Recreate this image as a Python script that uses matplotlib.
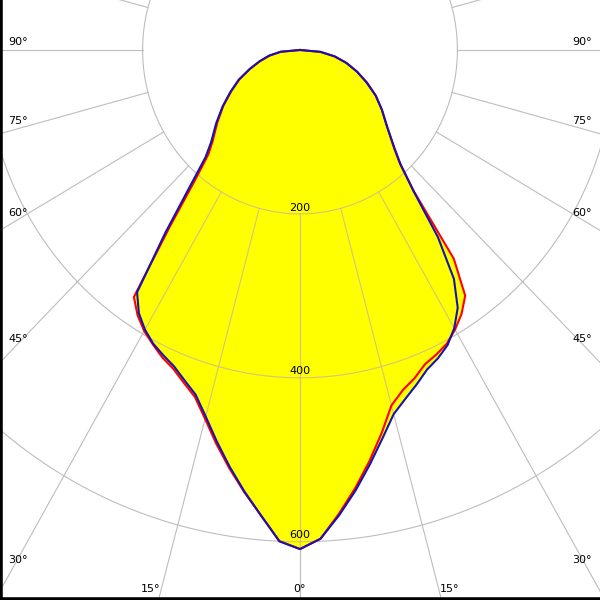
import numpy as np
import matplotlib
matplotlib.use('Agg')
import matplotlib.pyplot as plt

# polar light distribution, 0 deg pointing down, intensity in cd
angles = [0, 2.5, 5, 7.5, 10, 12.5, 15, 17.5, 20, 22.5, 25, 27.5, 30, 32.5, 35,
          37.5, 40, 42.5, 45, 50, 55, 60, 65, 70, 75, 80, 85, 90]

# C0-C180 plane (red)
red_right = [609, 597, 568, 539, 509, 479, 449, 435, 426, 415, 410, 404, 394, 382, 366,
             321, 225, 188, 169, 144, 127, 111, 94, 77, 61, 44, 26, 0]
red_left = [609, 600, 570, 544, 518, 492, 466, 444, 432, 421, 414, 405, 396, 384, 368,
            272, 208, 172, 157, 137, 119, 101, 85, 68, 53, 39, 24, 0]

# C90-C270 plane (blue)
blue_right = [609, 597, 570, 542, 513, 485, 460, 446, 434, 422, 415, 406, 392, 373, 341,
              288, 224, 189, 170, 144, 127, 111, 93, 77, 61, 45, 26, 0]
blue_left = [609, 600, 570, 543, 516, 489, 463, 441, 429, 418, 411, 404, 394, 381, 361,
             281, 218, 178, 160, 139, 120, 102, 86, 68, 53, 40, 25, 0]

rings = [200, 400, 600]
spoke_step = 15
angle_labels = [90, 75, 60, 45, 30]
bottom_labels = [15, 0]

SX, SY = 0.787, 0.8195   # pixels per cd, horizontal / vertical


def outline(left, right):
    a = np.radians(angles)
    l = np.asarray(left, float)
    r = np.asarray(right, float)
    x = np.concatenate([-l[::-1] * np.sin(a[::-1]), r * np.sin(a)])
    y = np.concatenate([-l[::-1] * np.cos(a[::-1]), -r * np.cos(a)])
    return x, y


def draw_grid(color, zorder, clip=None):
    t = np.linspace(0, 2 * np.pi, 400)
    lines = []
    for r in rings:
        lines += ax.plot(r * np.sin(t), -r * np.cos(t), color=color, lw=0.8, zorder=zorder)
    for deg in range(0, 181, spoke_step):
        a = np.radians(deg)
        for s in (-1, 1):
            lines += ax.plot([s * rings[0] * np.sin(a), s * 1200 * np.sin(a)],
                             [-rings[0] * np.cos(a), -1200 * np.cos(a)],
                             color=color, lw=0.8, zorder=zorder)
    if clip is not None:
        for ln in lines:
            ln.set_clip_path(clip)


fig = plt.figure(figsize=(6, 6), dpi=100)
ax = fig.add_axes([0, 0, 1, 1])
ax.set_xlim(-300 / SX, 300 / SX)
ax.set_ylim(-550 / SY, 50 / SY)

rx, ry = outline(red_left, red_right)
bx, by = outline(blue_left, blue_right)
fx, fy = outline(np.maximum(red_left, blue_left), np.maximum(red_right, blue_right))

draw_grid('#bdbdbd', 0.5)
patch = ax.fill(fx, fy, color='#ffff00', zorder=1, lw=0)[0]
draw_grid('#d4c47c', 2, clip=patch)

ax.plot(rx, ry, color='#ff0000', lw=1.5, zorder=3)
ax.plot(bx, by, color='#1414b4', lw=1.5, zorder=4)

# ring values
for r in rings:
    ax.annotate(str(r), xy=(0, -r), xytext=(0, 1), textcoords='offset points',
                ha='center', va='bottom', fontsize=8, zorder=5)

# angle labels on the sides
for deg in angle_labels:
    a = np.radians(deg)
    xe = 292 / SX
    yl = -xe * np.cos(a) / np.sin(a) + (8 + 10 * np.cos(a)) / SY
    ax.text(-xe, yl, f'{deg}°', ha='left', va='center', fontsize=8, zorder=5)
    ax.text(xe, yl, f'{deg}°', ha='right', va='center', fontsize=8, zorder=5)

# angle labels at the bottom
yb = -539 / SY
for deg in bottom_labels:
    a = np.radians(deg)
    xb = (550 / SY) * np.tan(a) * (SY / SY) - 1.5 / SX
    if deg == 0:
        ax.text(0, yb, '0°', ha='center', va='center', fontsize=8, zorder=5)
    else:
        ax.text(-xb, yb, f'{deg}°', ha='right', va='center', fontsize=8, zorder=5)
        ax.text(xb, yb, f'{deg}°', ha='left', va='center', fontsize=8, zorder=5)

ax.set_xticks([])
ax.set_yticks([])
for side in ('top', 'right'):
    ax.spines[side].set_visible(False)
for side in ('left', 'bottom'):
    ax.spines[side].set_linewidth(4)
    ax.spines[side].set_color('black')

fig.savefig('out.png', dpi=100)
